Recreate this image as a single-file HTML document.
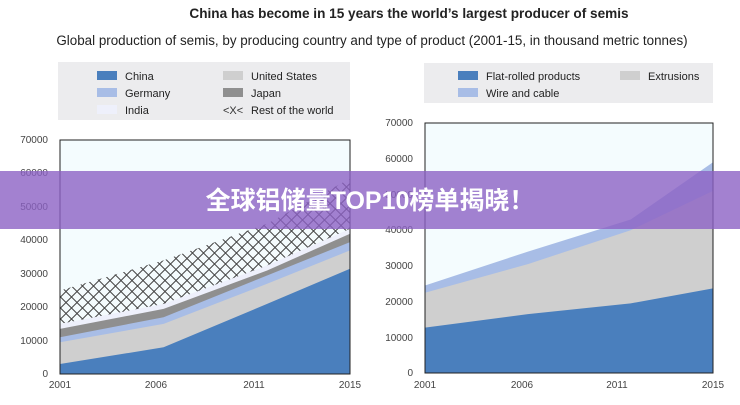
<!DOCTYPE html>
<html><head><meta charset="utf-8"><style>
body{margin:0;width:740px;height:400px;background:#fff;overflow:hidden;font-family:"Liberation Sans",sans-serif}
</style></head><body>
<svg width="740" height="400" xmlns="http://www.w3.org/2000/svg" font-family="Liberation Sans, sans-serif">
<defs>
<pattern id="xh" width="11" height="11" patternUnits="userSpaceOnUse">
<rect width="11" height="11" fill="#f4fbfd"/>
<path d="M0 5.5 L5.5 0 L11 5.5 L5.5 11 Z" fill="none" stroke="#444" stroke-width="1"/>
</pattern>
</defs>
<text x="409" y="18" text-anchor="middle" font-size="13.6" font-weight="bold" fill="#222">China has become in 15 years the world’s largest producer of semis</text>
<text x="372" y="45" text-anchor="middle" font-size="13.4" fill="#222">Global production of semis, by producing country and type of product (2001-15, in thousand metric tonnes)</text>
<!-- left legend -->
<rect x="58" y="62" width="292" height="58" fill="#ececee"/>
<rect x="97" y="71" width="20" height="9" fill="#4a7fbd"/><text x="125" y="80" font-size="11" fill="#222">China</text>
<rect x="97" y="88" width="20" height="9" fill="#a8bde6"/><text x="125" y="97" font-size="11" fill="#222">Germany</text>
<rect x="97" y="105" width="20" height="9" fill="#eef0fb"/><text x="125" y="114" font-size="11" fill="#222">India</text>
<rect x="223" y="71" width="20" height="9" fill="#cfcfcf"/><text x="251" y="80" font-size="11" fill="#222">United States</text>
<rect x="223" y="88" width="20" height="9" fill="#8f8f8f"/><text x="251" y="97" font-size="11" fill="#222">Japan</text>
<text x="223" y="114" font-size="11" fill="#333">&lt;X&lt;</text><text x="251" y="114" font-size="11" fill="#222">Rest of the world</text>
<!-- right legend -->
<rect x="424" y="63" width="289" height="40" fill="#ececee"/>
<rect x="458" y="71" width="20" height="9" fill="#4a7fbd"/><text x="486" y="80" font-size="11" fill="#222">Flat-rolled products</text>
<rect x="458" y="88" width="20" height="9" fill="#a8bde6"/><text x="486" y="97" font-size="11" fill="#222">Wire and cable</text>
<rect x="620" y="71" width="20" height="9" fill="#cfcfcf"/><text x="648" y="80" font-size="11" fill="#222">Extrusions</text>

<!-- left chart -->
<rect x="60" y="140" width="290" height="234" fill="#f4fcfe"/>
<polygon points="60,290.5 163.6,260.4 267.1,223.7 350,178.6 350,374 60,374" fill="url(#xh)"/>
<polygon points="60,323.9 163.6,303.9 267.1,265.5 350,228.7 350,374 60,374" fill="#eef0fb"/>
<polygon points="60,328.9 163.6,308.9 267.1,270.5 350,233.7 350,374 60,374" fill="#8f8f8f"/>
<polygon points="60,337.3 163.6,317.2 267.1,275.5 350,242.1 350,374 60,374" fill="#a8bde6"/>
<polygon points="60,342.3 163.6,323.9 267.1,283.8 350,250.4 350,374 60,374" fill="#cfcfcf"/>
<polygon points="60,364 163.6,347.3 267.1,303.9 350,268.8 350,374 60,374" fill="#4a7fbd"/>
<rect x="60" y="140" width="290" height="234" fill="none" stroke="#222" stroke-width="1"/>
<g font-size="10" fill="#444" text-anchor="end">
<text x="48" y="377">0</text><text x="48" y="344">10000</text><text x="48" y="310">20000</text><text x="48" y="277">30000</text><text x="48" y="243">40000</text><text x="48" y="210">50000</text><text x="48" y="176">60000</text><text x="48" y="143">70000</text>
</g>
<g font-size="10" fill="#444" text-anchor="middle">
<text x="60" y="388">2001</text><text x="156" y="388">2006</text><text x="254" y="388">2011</text><text x="350" y="388">2015</text>
</g>
<!-- right chart -->
<rect x="425" y="123" width="288" height="250" fill="#f4fcfe"/>
<polygon points="425,285.5 527.9,251.6 630.7,219.5 713,162.3 713,373 425,373" fill="#a8bde6"/>
<polygon points="425,292.7 527.9,264.1 630.7,230.2 713,190.9 713,373 425,373" fill="#cfcfcf"/>
<polygon points="425,327.6 527.9,314.1 630.7,303.4 713,288.4 713,373 425,373" fill="#4a7fbd"/>
<rect x="425" y="123" width="288" height="250" fill="none" stroke="#222" stroke-width="1"/>
<g font-size="10" fill="#444" text-anchor="end">
<text x="413" y="376">0</text><text x="413" y="341">10000</text><text x="413" y="305">20000</text><text x="413" y="269">30000</text><text x="413" y="233">40000</text><text x="413" y="198">50000</text><text x="413" y="162">60000</text><text x="413" y="126">70000</text>
</g>
<g font-size="10" fill="#444" text-anchor="middle">
<text x="425" y="388">2001</text><text x="522" y="388">2006</text><text x="617" y="388">2011</text><text x="713" y="388">2015</text>
</g>
<!-- banner -->
<rect x="0" y="171" width="740" height="58" fill="#8c62c4" fill-opacity="0.8"/>
<text x="370" y="209" text-anchor="middle" font-size="25" font-weight="bold" fill="#fff" font-family="Liberation Sans, Noto Sans CJK SC, sans-serif">全球铝储量TOP10榜单揭晓！</text>
</svg>
</body></html>
